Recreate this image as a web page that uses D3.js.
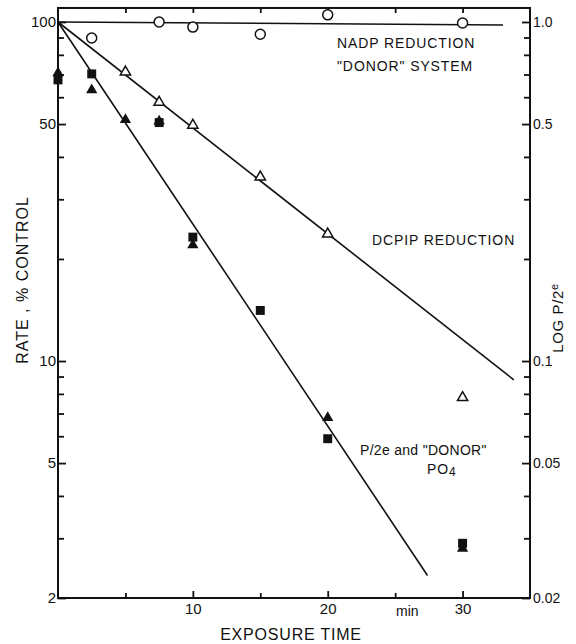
<!DOCTYPE html>
<html>
<head>
<meta charset="utf-8">
<script src="https://cdn.jsdelivr.net/npm/d3@7"></script>
<style>
  body { margin: 0; background: #fff; }
  svg text { font-family: "Liberation Sans", Arial, sans-serif; fill: #111; }
  .axis text { font-size: 15px; }
  .axis path { display: none; }
  .axis line { stroke: #111; stroke-width: 1.8; }
</style>
</head>
<body>
<div id="chart"></div>
<script>
// data (minutes, % of control)
var nadpTime = [2.5, 7.5, 10, 15, 20, 30];
var nadpRate = [89.7, 100, 96.6, 92, 105, 99.3];

var dcpipTime = [5, 7.5, 10, 15, 20, 30];
var dcpipRate = [71.2, 58, 49.6, 34.9, 23.7, 7.8];

var p2eTime = [0, 2.5, 5, 7.5, 10, 20, 30];       // filled triangles
var p2eRate = [70.7, 63, 51.5, 51, 22, 6.8, 2.8];

var donorTime = [0, 2.5, 7.5, 10, 15, 20, 30];     // filled squares
var donorRate = [67.5, 70.3, 50.5, 23.2, 14.1, 5.9, 2.9];

// fitted lines (start, end)
var nadpFit = [[0, 100], [33, 98]];
var dcpipFit = [[0, 100], [33.8, 8.8]];
var p2eFit = [[0, 100], [27.4, 2.33]];

var yMajor = [2, 5, 10, 50, 100];
var yMinor = [3, 4, 6, 7, 8, 9, 20, 30, 40, 60, 70, 80, 90];
var rightLabels = ["0.02", "0.05", "0.1", "0.5", "1.0"];
var xMajor = [10, 20, 30];
var xMinor = [5, 15, 25];

var width = 576, height = 644;

var svg = d3.select("#chart").append("svg")
    .attr("width", width)
    .attr("height", height);

var x = d3.scaleLinear().domain([0, 35]).range([58, 530]);
var y = d3.scaleLog().domain([2, 100]).range([598, 22]);
var yTop = y(110);

// frame
svg.append("rect")
    .attr("x", x(0)).attr("y", yTop)
    .attr("width", x(35) - x(0)).attr("height", y(2) - yTop)
    .attr("fill", "none").attr("stroke", "#111").attr("stroke-width", 2);

// left axis
svg.append("g").attr("class", "axis")
    .attr("transform", "translate(" + x(0) + ",0)")
    .call(d3.axisLeft(y).tickValues(yMajor).tickFormat(d3.format("d")).tickSize(-8).tickPadding(2));
svg.append("g").attr("class", "axis")
    .attr("transform", "translate(" + x(0) + ",0)")
    .call(d3.axisLeft(y).tickValues(yMinor).tickFormat("").tickSize(-6));

// right axis
svg.append("g").attr("class", "axis")
    .attr("transform", "translate(" + x(35) + ",0)")
    .call(d3.axisRight(y).tickValues(yMajor).tickFormat(function(d, i) { return rightLabels[i]; }).tickSize(-8).tickPadding(3))
    .selectAll("text").style("font-size", "14px");
svg.append("g").attr("class", "axis")
    .attr("transform", "translate(" + x(35) + ",0)")
    .call(d3.axisRight(y).tickValues(yMinor).tickFormat("").tickSize(-6));

// bottom axis
svg.append("g").attr("class", "axis")
    .attr("transform", "translate(0," + y(2) + ")")
    .call(d3.axisBottom(x).tickValues(xMajor).tickSize(-7).tickPadding(5));
svg.append("g").attr("class", "axis")
    .attr("transform", "translate(0," + y(2) + ")")
    .call(d3.axisBottom(x).tickValues(xMinor).tickFormat("").tickSize(-5));

// top ticks
svg.append("g").attr("class", "axis")
    .attr("transform", "translate(0," + yTop + ")")
    .call(d3.axisTop(x).tickValues(xMinor.concat(xMajor)).tickFormat("").tickSize(-5));

svg.append("text")
    .attr("x", x(25.9)).attr("y", y(2) + 18)
    .attr("text-anchor", "middle")
    .style("font-size", "14px")
    .text("min");

// axis titles
svg.append("text")
    .attr("x", 291).attr("y", 640)
    .attr("text-anchor", "middle")
    .style("font-size", "16px").style("letter-spacing", "0.8px")
    .text("EXPOSURE  TIME");

svg.append("text")
    .attr("transform", "translate(28,280) rotate(-90)")
    .attr("text-anchor", "middle")
    .style("font-size", "16px").style("letter-spacing", "1px")
    .text("RATE ,  % CONTROL");

var rt = svg.append("text")
    .attr("transform", "translate(563,318) rotate(-90)")
    .attr("text-anchor", "middle")
    .style("font-size", "15px").style("letter-spacing", "0.6px");
rt.append("tspan").text("LOG  P/2");
rt.append("tspan").attr("dy", -5).style("font-size", "11px").text("e");

// fitted lines
var line = d3.line().x(function(d) { return x(d[0]); }).y(function(d) { return y(d[1]); });
[nadpFit, dcpipFit, p2eFit].forEach(function(f) {
  svg.append("path").datum(f)
    .attr("d", line)
    .attr("fill", "none").attr("stroke", "#111").attr("stroke-width", 1.6);
});

// markers
function pts(t, v) { return t.map(function(d, i) { return [d, v[i]]; }); }

svg.selectAll(".nadp").data(pts(nadpTime, nadpRate)).enter()
  .append("circle")
    .attr("cx", function(d) { return x(d[0]); })
    .attr("cy", function(d) { return y(d[1]); })
    .attr("r", 5)
    .attr("fill", "#fff").attr("stroke", "#111").attr("stroke-width", 1.5);

var openTri = d3.symbol().type(d3.symbolTriangle).size(46);
var tri = d3.symbol().type(d3.symbolTriangle).size(55);
var sq = d3.symbol().type(d3.symbolSquare).size(80);

svg.selectAll(".dcpip").data(pts(dcpipTime, dcpipRate)).enter()
  .append("path")
    .attr("d", openTri)
    .attr("transform", function(d) { return "translate(" + x(d[0]) + "," + y(d[1]) + ")"; })
    .attr("fill", "#fff").attr("stroke", "#111").attr("stroke-width", 1.5);

svg.selectAll(".donor").data(pts(donorTime, donorRate)).enter()
  .append("path")
    .attr("d", sq)
    .attr("transform", function(d) { return "translate(" + x(d[0]) + "," + y(d[1]) + ")"; })
    .attr("fill", "#111");

svg.selectAll(".p2e").data(pts(p2eTime, p2eRate)).enter()
  .append("path")
    .attr("d", tri)
    .attr("transform", function(d) { return "translate(" + x(d[0]) + "," + y(d[1]) + ")"; })
    .attr("fill", "#111");

// annotations
var ann = svg.append("g").style("font-size", "14px").style("letter-spacing", "0.9px");
ann.append("text").attr("x", 337).attr("y", 48).text("NADP REDUCTION");
ann.append("text").attr("x", 337).attr("y", 71).text("\"DONOR\" SYSTEM");
ann.append("text").attr("x", 372).attr("y", 245).text("DCPIP REDUCTION");
ann.append("text").attr("x", 360).attr("y", 455).style("letter-spacing", "0.3px").text("P/2e  and \"DONOR\"");
var po = ann.append("text").attr("x", 427).attr("y", 474);
po.append("tspan").text("PO");
po.append("tspan").attr("dy", 2).style("font-size", "12px").text("4");
</script>
</body>
</html>
